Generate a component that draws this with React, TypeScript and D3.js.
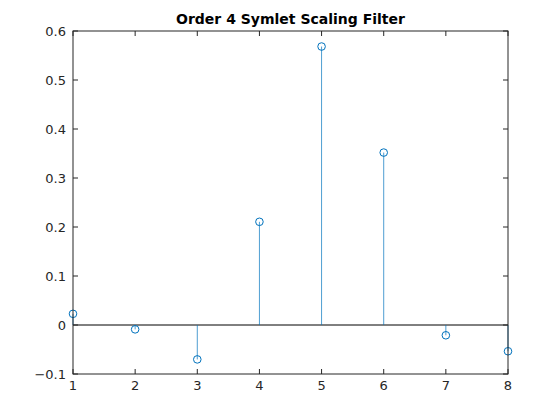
import React from "react";
import * as d3 from "d3";

const xs = [1, 2, 3, 4, 5, 6, 7, 8];
const values = [0.0228, -0.0089, -0.0702, 0.2106, 0.5683, 0.3519, -0.021, -0.0536];
const xTicks = [1, 2, 3, 4, 5, 6, 7, 8];
const yTicks = [-0.1, 0, 0.1, 0.2, 0.3, 0.4, 0.5, 0.6];
const title = "Order 4 Symlet Scaling Filter";

export default function App() {
  const W = 560, H = 420;
  const left = 73, right = 508, top = 31, bottom = 374;
  const x = d3.scaleLinear().domain([1, 8]).range([left, right]);
  const y = d3.scaleLinear().domain([-0.1, 0.6]).range([bottom, top]);
  const blue = "#0072BD";
  const axisColor = "#262626";
  const tl = 5;
  return (
    <svg width={W} height={H} style={{ position: "absolute", left: 0, top: 0, background: "#fff" }}
      fontFamily="DejaVu Sans, sans-serif">
      <rect x={0} y={0} width={W} height={H} fill="#fff" />
      <line x1={x(1)} x2={x(8)} y1={y(0)} y2={y(0)} stroke="#000" strokeWidth={1} />
      {xs.map((xv, i) => (
        <line key={"s" + i} x1={x(xv)} x2={x(xv)} y1={y(0)} y2={y(values[i])} stroke={blue} strokeWidth={0.7} />
      ))}
      {xs.map((xv, i) => (
        <circle key={"m" + i} cx={x(xv)} cy={y(values[i])} r={3.8} fill="none" stroke={blue} strokeWidth={1} />
      ))}
      <rect x={left} y={top} width={right - left} height={bottom - top} fill="none" stroke={axisColor} strokeWidth={1} />
      {xTicks.map((t) => (
        <g key={"xt" + t}>
          <line x1={x(t)} x2={x(t)} y1={bottom} y2={bottom - tl} stroke={axisColor} />
          <line x1={x(t)} x2={x(t)} y1={top} y2={top + tl} stroke={axisColor} />
          <text x={x(t)} y={bottom + 16} textAnchor="middle" fontSize={13} fill={axisColor}>{t}</text>
        </g>
      ))}
      {yTicks.map((t) => (
        <g key={"yt" + t}>
          <line x1={left} x2={left + tl} y1={y(t)} y2={y(t)} stroke={axisColor} />
          <line x1={right} x2={right - tl} y1={y(t)} y2={y(t)} stroke={axisColor} />
          <text x={left - 7} y={y(t) + 4.5} textAnchor="end" fontSize={13} fill={axisColor}>{d3.format("")(Math.round(t * 10) / 10)}</text>
        </g>
      ))}
      <text x={(left + right) / 2} y={top - 7} textAnchor="middle" fontSize={14} fontWeight="bold" fill="#000">{title}</text>
    </svg>
  );
}
